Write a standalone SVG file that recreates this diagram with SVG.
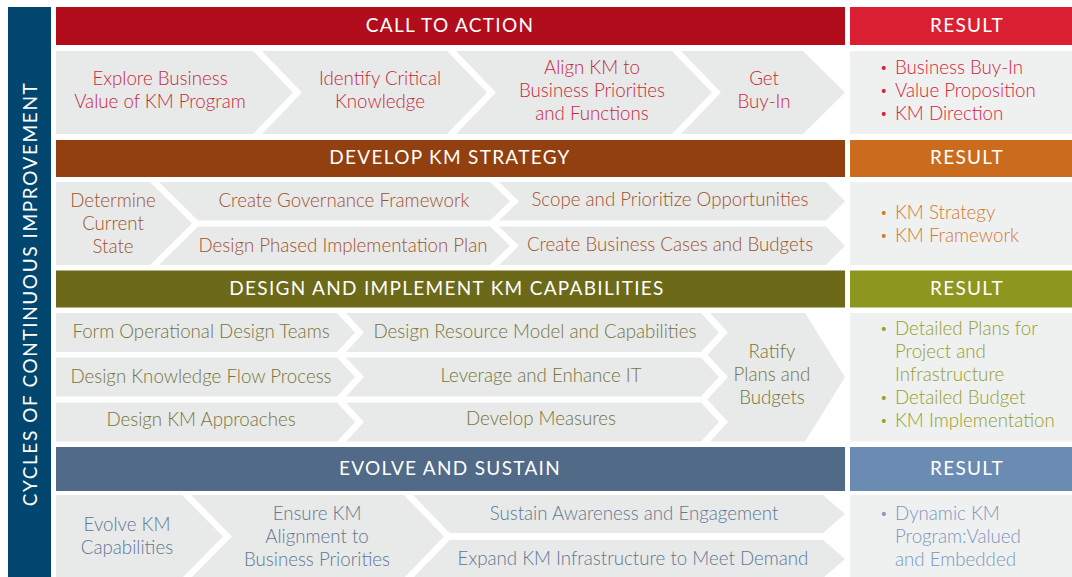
<svg xmlns="http://www.w3.org/2000/svg" width="1072" height="577" viewBox="0 0 1072 577">
<style>
text{font-family:"Lato","Open Sans",sans-serif;}
.hd{font-size:19px;fill:#fff;text-anchor:middle;letter-spacing:1.3px;}
.side{font-size:19px;fill:#fff;text-anchor:middle;letter-spacing:1.6px;}
.t{font-size:18.7px;text-anchor:middle;font-weight:300;}
.r{font-size:18.7px;font-weight:300;}
.b{font-size:13px;}
.chev{fill:#E8E9E9;}
.res{fill:#EFF0F0;}
.t1{fill:#C42A3B;} .r1{fill:#D9213A;}
.t2{fill:#A0532D;} .r2{fill:#D27A2C;}
.t3{fill:#76753A;} .r3{fill:#94A02A;}
.t4{fill:#5F7894;} .r4{fill:#7B98BD;}
</style>
<rect width="1072" height="577" fill="#fff"/>
<g id="sidebar">
<rect x="8" y="7" width="43" height="571" fill="#00466F"/>
<text class="side" transform="translate(36.5,294) rotate(-90)">CYCLES OF CONTINUOUS IMPROVEMENT</text>
</g>

<!-- Row 1 -->
<g id="hdr-call"><rect x="56" y="7" width="789" height="38" fill="#B20D1C"/><text class="hd" x="450" y="32">CALL TO ACTION</text></g>
<g id="res-hdr-1"><rect x="850" y="7" width="222" height="38" fill="#DA1F33"/><text class="hd" x="967" y="32">RESULT</text></g>
<g id="explore"><polygon class="chev" points="56,51 253,51 293,92.5 253,134 56,134"/><text class="t t1" x="160" y="85">Explore Business</text><text class="t t1" x="160" y="108">Value of KM Program</text></g>
<g id="identify"><polygon class="chev" points="262,51 447,51 487,92.5 447,134 262,134 302,92.5"/><text class="t t1" x="380" y="85">Identify Critical</text><text class="t t1" x="380" y="108">Knowledge</text></g>
<g id="align"><polygon class="chev" points="456,51 672,51 712,92.5 672,134 456,134 496,92.5"/><text class="t t1" x="592" y="74">Align KM to</text><text class="t t1" x="592" y="97">Business Priorities</text><text class="t t1" x="592" y="120">and Functions</text></g>
<g id="buyin"><polygon class="chev" points="681,51 803,51 845,92.5 803,134 681,134 721,92.5"/><text class="t t1" x="764" y="85">Get</text><text class="t t1" x="764" y="108">Buy-In</text></g>
<g id="res-1"><rect class="res" x="850" y="51" width="222" height="83"/>
<text class="r b r1" x="880" y="72">•</text><text class="r r1" x="895" y="74">Business Buy-In</text>
<text class="r b r1" x="880" y="95">•</text><text class="r r1" x="895" y="97">Value Proposition</text>
<text class="r b r1" x="880" y="118">•</text><text class="r r1" x="895" y="120">KM Direction</text></g>

<!-- Row 2 -->
<g id="hdr-develop"><rect x="56" y="140" width="789" height="37" fill="#934010"/><text class="hd" x="450" y="164">DEVELOP KM STRATEGY</text></g>
<g id="res-hdr-2"><rect x="850" y="140" width="222" height="37" fill="#CB6B1D"/><text class="hd" x="967" y="164">RESULT</text></g>
<g id="determine"><polygon class="chev" points="56,182 150,182 192,223.5 150,265 56,265"/><text class="t t2" x="113" y="207">Determine</text><text class="t t2" x="113" y="230">Current</text><text class="t t2" x="113" y="253">State</text></g>
<g id="governance"><polygon class="chev" points="159,182 490,182 510,201.25 490,220.5 198,220.5"/><text class="t t2" x="344" y="207">Create Governance Framework</text></g>
<g id="phased"><polygon class="chev" points="198,226.5 490,226.5 510,245.75 490,265 159,265"/><text class="t t2" x="343" y="252">Design Phased Implementation Plan</text></g>
<g id="scope"><polygon class="chev" points="499,182 826,182 845,201.25 826,220.5 499,220.5 519,201.25"/><text class="t t2" x="670" y="206">Scope and Prioritize Opportunities</text></g>
<g id="cases"><polygon class="chev" points="499,226.5 826,226.5 845,245.75 826,265 499,265 519,245.75"/><text class="t t2" x="670" y="251">Create Business Cases and Budgets</text></g>
<g id="res-2"><rect class="res" x="850" y="182" width="222" height="83"/>
<text class="r b r2" x="880" y="217">•</text><text class="r r2" x="895" y="219">KM Strategy</text>
<text class="r b r2" x="880" y="240">•</text><text class="r r2" x="895" y="242">KM Framework</text></g>

<!-- Row 3 -->
<g id="hdr-design"><rect x="56" y="270.5" width="789" height="37" fill="#6C6918"/><text class="hd" x="447" y="295">DESIGN AND IMPLEMENT KM CAPABILITIES</text></g>
<g id="res-hdr-3"><rect x="850" y="270.5" width="222" height="37" fill="#8D961F"/><text class="hd" x="967" y="295">RESULT</text></g>
<g id="teams"><polygon class="chev" points="56,313 337,313 355,332.5 337,352 56,352"/><text class="t t3" x="201" y="338">Form Operational Design Teams</text></g>
<g id="flow"><polygon class="chev" points="56,357.5 337,357.5 355,377 337,396.5 56,396.5"/><text class="t t3" x="201" y="383">Design Knowledge Flow Process</text></g>
<g id="approaches"><polygon class="chev" points="56,402.5 337,402.5 355,422 337,441.5 56,441.5"/><text class="t t3" x="201" y="426">Design KM Approaches</text></g>
<g id="resource"><polygon class="chev" points="346,313 701,313 719,332.5 701,352 346,352 364,332.5"/><text class="t t3" x="535" y="338">Design Resource Model and Capabilities</text></g>
<g id="leverage"><polygon class="chev" points="346,357.5 701,357.5 719,377 701,396.5 346,396.5 364,377"/><text class="t t3" x="541" y="382">Leverage and Enhance IT</text></g>
<g id="measures"><polygon class="chev" points="346,402.5 701,402.5 719,422 701,441.5 346,441.5 364,422"/><text class="t t3" x="541" y="425">Develop Measures</text></g>
<g id="ratify"><polygon class="chev" points="710,313 805,313 845,377.25 805,441.5 710,441.5 728,422 710,402.5 707.5,399.5 710,396.5 728,377 710,357.5 707.5,354.75 710,352 728,332.5"/><text class="t t3" x="772" y="358">Ratify</text><text class="t t3" x="772" y="381">Plans and</text><text class="t t3" x="772" y="404">Budgets</text></g>
<g id="res-3"><rect class="res" x="850" y="313" width="222" height="128.5"/>
<text class="r b r3" x="880" y="333">•</text><text class="r r3" x="895" y="335">Detailed Plans for</text>
<text class="r r3" x="895" y="358">Project and</text>
<text class="r r3" x="895" y="381">Infrastructure</text>
<text class="r b r3" x="880" y="402">•</text><text class="r r3" x="895" y="404">Detailed Budget</text>
<text class="r b r3" x="880" y="425">•</text><text class="r r3" x="895" y="427">KM Implementation</text></g>

<!-- Row 4 -->
<g id="hdr-evolve"><rect x="56" y="447" width="789" height="44" fill="#506A88"/><text class="hd" x="450" y="475">EVOLVE AND SUSTAIN</text></g>
<g id="res-hdr-4"><rect x="850" y="447" width="222" height="44" fill="#6B8CB2"/><text class="hd" x="967" y="475">RESULT</text></g>
<g id="evolve"><polygon class="chev" points="56,495 182,495 223,536.5 182,578 56,578"/><text class="t t4" x="127" y="531">Evolve KM</text><text class="t t4" x="127" y="554">Capabilities</text></g>
<g id="ensure"><polygon class="chev" points="191,495 404,495 444,536.5 404,578 191,578 232,536.5"/><text class="t t4" x="317" y="520">Ensure KM</text><text class="t t4" x="317" y="543">Alignment to</text><text class="t t4" x="317" y="566">Business Priorities</text></g>
<g id="sustain"><polygon class="chev" points="413,495 823,495 845,514 823,533 449.6,533"/><text class="t t4" x="634" y="520">Sustain Awareness and Engagement</text></g>
<g id="expand"><polygon class="chev" points="449.6,540 823,540 845,559 823,578 413,578"/><text class="t t4" x="633" y="565">Expand KM Infrastructure to Meet Demand</text></g>
<g id="res-4"><rect class="res" x="850" y="495" width="222" height="83"/>
<text class="r b r4" x="880" y="518">•</text><text class="r r4" x="895" y="520">Dynamic KM</text>
<text class="r r4" x="895" y="543">Program:Valued</text>
<text class="r r4" x="895" y="566">and Embedded</text></g>
</svg>
